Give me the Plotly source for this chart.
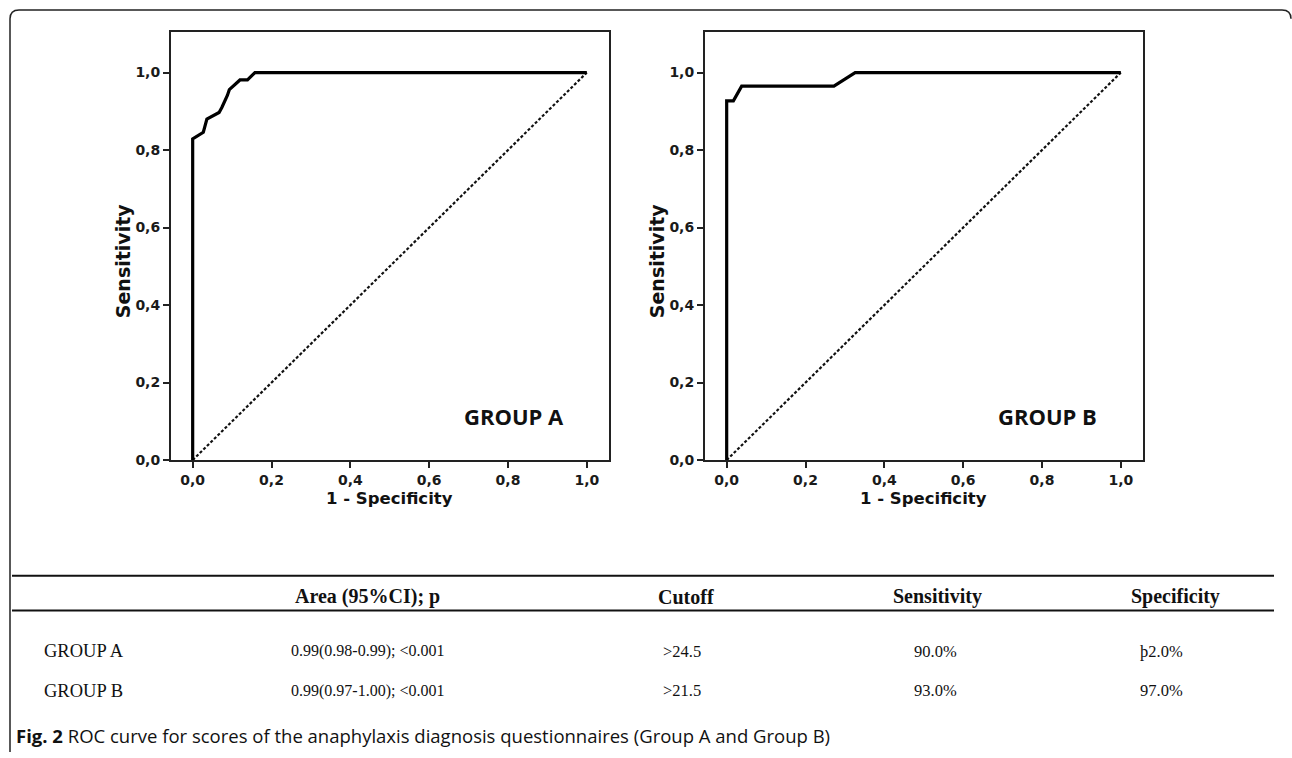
import plotly.graph_objects as go

# ---------------- data ----------------
fpr_a = [0.0, 0.0, 0.027, 0.036, 0.067, 0.074, 0.088, 0.093, 0.120, 0.139, 0.158, 1.0]
tpr_a = [0.0, 0.829, 0.846, 0.880, 0.897, 0.910, 0.941, 0.956, 0.981, 0.981, 1.0, 1.0]

fpr_b = [0.0, 0.0, 0.017, 0.038, 0.272, 0.326, 1.0]
tpr_b = [0.0, 0.927, 0.927, 0.965, 0.965, 1.0, 1.0]

ref_line = [0.0, 1.0]

tick_vals = [0.0, 0.2, 0.4, 0.6, 0.8, 1.0]
tick_labels = ["0,0", "0,2", "0,4", "0,6", "0,8", "1,0"]

panel_labels = ["GROUP A", "GROUP B"]
x_title = "1 - Specificity"
y_title = "Sensitivity"

table_header = ["Area (95%CI); p", "Cutoff", "Sensitivity", "Specificity"]
table_groups = ["GROUP A", "GROUP B"]
table_area = ["0.99(0.98-0.99); <0.001", "0.99(0.97-1.00); <0.001"]
table_cutoff = [">24.5", ">21.5"]
table_sens = ["90.0%", "93.0%"]
table_spec = ["þ2.0%", "97.0%"]

caption_bold = "Fig. 2"
caption_text = " ROC curve for scores of the anaphylaxis diagnosis questionnaires (Group A and Group B)"

# ---------------- layout helpers ----------------
W, H = 1292, 758


def px(x):
    return x / W


def py(y):
    return 1 - y / H


AX_FONT = dict(family="DejaVu Sans", size=14, color="#1a1a1a", weight="bold")

fig = go.Figure()

panels = [
    dict(fpr=fpr_a, tpr=tpr_a, xa="x", ya="y", left=171, right=608.5, label=panel_labels[0]),
    dict(fpr=fpr_b, tpr=tpr_b, xa="x2", ya="y2", left=705, right=1142.5, label=panel_labels[1]),
]
top_px, bot_px = 32.0, 465.0

for i, p in enumerate(panels):
    fig.add_trace(go.Scatter(x=ref_line, y=ref_line, mode="lines",
                             line=dict(color="#111", width=2.2, dash="3px,2px"),
                             xaxis=p["xa"], yaxis=p["ya"], showlegend=False, hoverinfo="skip"))
    fig.add_trace(go.Scatter(x=p["fpr"], y=p["tpr"], mode="lines",
                             line=dict(color="#000", width=3.2),
                             xaxis=p["xa"], yaxis=p["ya"], showlegend=False))
    sfx = "" if i == 0 else "2"
    common = dict(showgrid=False, zeroline=False, showline=True, mirror=True,
                  linecolor="#222", linewidth=2, ticks="outside", ticklen=6, tickwidth=2,
                  tickcolor="#222", tickvals=tick_vals, ticktext=tick_labels,
                  tickfont=AX_FONT, fixedrange=True)
    fig.layout["xaxis" + sfx] = dict(domain=[px(p["left"]), px(p["right"])],
                                     range=[-0.055, 1.055], anchor="y" + sfx, **common)
    fig.layout["yaxis" + sfx] = dict(domain=[py(bot_px), py(top_px)],
                                     range=[0, 1.1056], anchor="x" + sfx, **common)
    # panel label
    fig.add_annotation(x=0.815, y=0.115, xref=p["xa"], yref=p["ya"], text=p["label"],
                       xanchor="center", yanchor="middle", showarrow=False,
                       font=dict(family="Open Sans", size=22, color="#111", weight="bold"))
    # axis titles
    cx = p["left"] + 21.7 + 197
    fig.add_annotation(x=px(cx), y=py(504), xref="paper", yref="paper", text=x_title,
                       xanchor="center", yanchor="middle", showarrow=False,
                       font=dict(family="DejaVu Sans", size=16.5, color="#111", weight="bold"))
    fig.add_annotation(x=px(p["left"] - 48), y=py(264), xref="paper", yref="paper", text=y_title,
                       xanchor="center", yanchor="middle", textangle=-90, showarrow=False,
                       font=dict(family="DejaVu Sans", size=19, color="#111", weight="bold"))

# ---------------- table ----------------
shapes = []
for yl in (582, 617):
    shapes.append(dict(type="line", xref="paper", yref="paper", x0=px(12), x1=px(1274),
                       y0=py(yl), y1=py(yl), line=dict(color="#111", width=2)))

# outer rounded frame
r = 9
path = (f"M {px(10)},{py(760)} L {px(10)},{py(10 + r)} Q {px(10)},{py(10)} {px(10 + r)},{py(10)} "
        f"L {px(1292 - r - 1)},{py(10)} Q {px(1291)},{py(10)} {px(1291)},{py(10 + r)}")
shapes.append(dict(type="path", xref="paper", yref="paper", path=path,
                   line=dict(color="#222", width=1.5)))
fig.update_layout(shapes=shapes)

HEAD_FONT = dict(family="Liberation Serif", size=20, color="#111", weight="bold")
ROW_FONT = dict(family="Liberation Serif", size=16.5, color="#111")
AREA_FONT = dict(family="Liberation Serif", size=16, color="#111")
col_x = [367, 686, 938, 1175]
for cxp, txt in zip(col_x, table_header):
    fig.add_annotation(x=px(cxp), y=py(603), xref="paper", yref="paper", text=txt,
                       xanchor="center", yanchor="middle", showarrow=False, font=HEAD_FONT)

row_y = [658, 698]
row_cols = [(367, table_area, AREA_FONT), (682, table_cutoff, ROW_FONT),
            (935, table_sens, ROW_FONT), (1161, table_spec, ROW_FONT)]
for j, ry in enumerate(row_y):
    fig.add_annotation(x=px(42), y=py(ry), xref="paper", yref="paper", text=table_groups[j],
                       xanchor="left", yanchor="middle", showarrow=False,
                       font=dict(family="Liberation Serif", size=18.5, color="#111"))
    for cxp, vals, fnt in row_cols:
        fig.add_annotation(x=px(cxp), y=py(ry), xref="paper", yref="paper", text=vals[j],
                           xanchor="center", yanchor="middle", showarrow=False, font=fnt)

fig.add_annotation(x=px(14), y=py(743), xref="paper", yref="paper",
                   text=f"<b>{caption_bold}</b>{caption_text}", xanchor="left", yanchor="middle",
                   showarrow=False, font=dict(family="Open Sans", size=18.5, color="#111"))

fig.update_layout(width=W, height=H, margin=dict(l=0, r=0, t=0, b=0),
                  paper_bgcolor="white", plot_bgcolor="white", showlegend=False)

fig.write_html("out.html", config={"displayModeBar": False},
               post_script="document.body.style.margin='0';document.body.style.overflow='hidden';")
